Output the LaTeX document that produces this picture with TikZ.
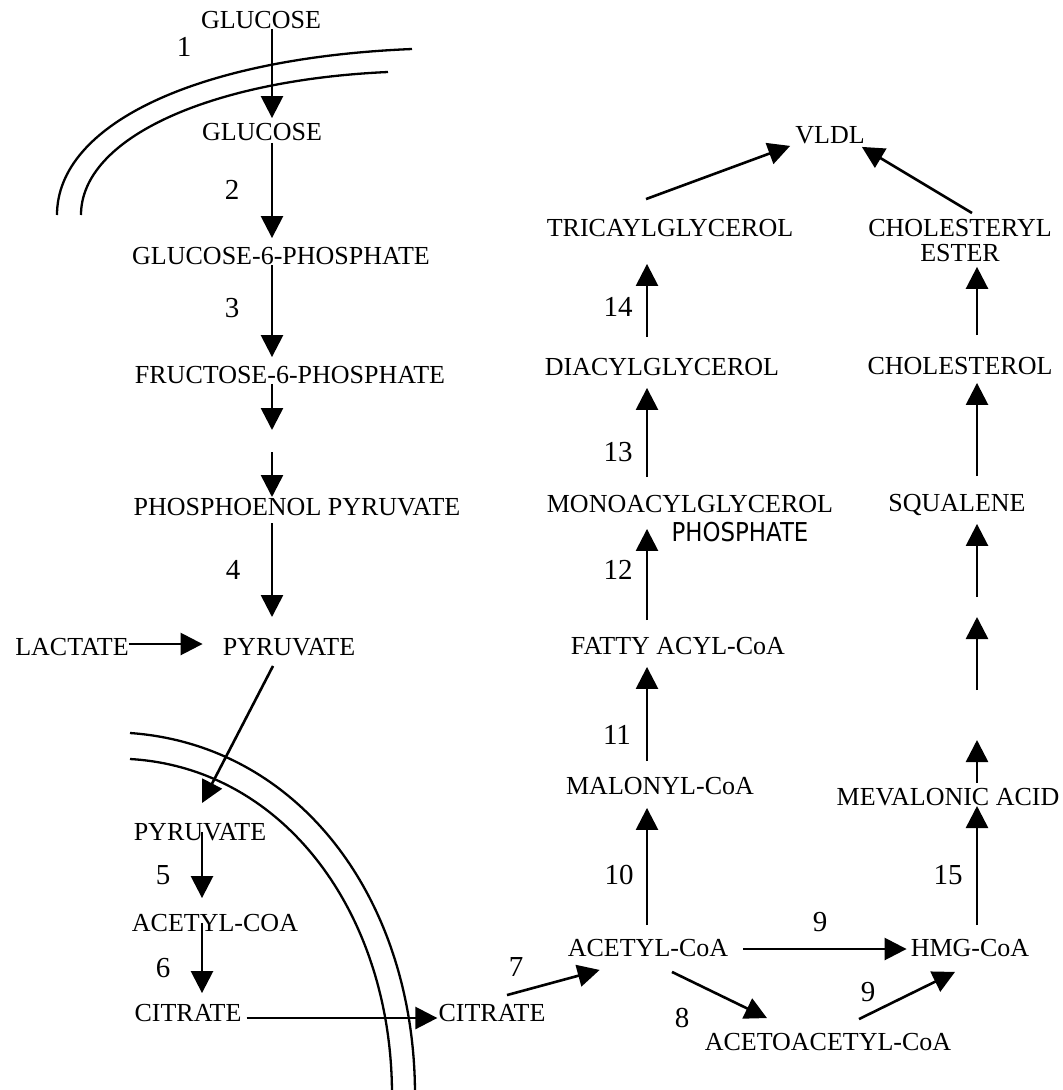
\documentclass[tikz,border=0pt]{standalone}
\usepackage{fontspec}
\setmainfont{Liberation Serif}
\newfontfamily\handfont{DejaVu Sans}
\usetikzlibrary{arrows.meta,calc}
\begin{document}
\begin{tikzpicture}[x=1pt,y=-1pt,
  lbl/.style={inner sep=0pt, font=\fontsize{26}{26}\selectfont},
  num/.style={inner sep=0pt, font=\fontsize{29}{29}\selectfont},
  arr/.style={line width=2.6pt, -{Triangle[length=22pt,width=22pt]}},
  mem/.style={line width=2.3pt}]
\useasboundingbox (0,0) rectangle (1063,1090);

% membranes
\draw[mem] (57,215) .. controls (57,125) and (195,58) .. (412,49);
\draw[mem] (81,215) .. controls (81,138) and (210,80) .. (388,72);
\draw[mem] (130,733) .. controls (300,745) and (415,900) .. (415,1095);
\draw[mem] (130,759) .. controls (285,768) and (392,915) .. (392,1095);

% column coordinates
\coordinate (cL) at (272,0);
\coordinate (cM) at (202,0);
\coordinate (cR1) at (647,0);
\coordinate (cR2) at (977,0);

% nodes
\node[lbl] (glu1) at (261,20) {GLUCOSE};
\node[lbl] (glu2) at (262,132) {GLUCOSE};
\node[lbl] (g6p) at (281,256) {GLUCOSE-6-PHOSPHATE};
\node[lbl] (f6p) at (290,375) {FRUCTOSE-6-PHOSPHATE};
\node[lbl] (pep) at (297,507) {PHOSPHOENOL PYRUVATE};
\node[lbl] (lac) at (72,647) {LACTATE};
\node[lbl] (pyr) at (289,647) {PYRUVATE};
\node[lbl] (mpyr) at (200,832) {PYRUVATE};
\node[lbl] (macoa) at (215,923) {ACETYL-COA};
\node[lbl] (mcit) at (188,1013) {CITRATE};
\node[lbl] (ccit) at (492,1013) {CITRATE};
\node[lbl] (acoa) at (648,948) {ACETYL-CoA};
\node[lbl] (aacoa) at (828,1042) {ACETOACETYL-CoA};
\node[lbl] (hmg) at (970,948) {HMG-CoA};
\node[lbl] (mev) at (948,797) {MEVALONIC ACID};
\node[lbl] (malo) at (660,786) {MALONYL-CoA};
\node[lbl] (fatty) at (678,646) {FATTY ACYL-CoA};
\node[lbl] (mono) at (690,504) {MONOACYLGLYCEROL};
\node[inner sep=0pt, font=\handfont\fontsize{26}{26}\selectfont] (phos) at (740,532) {\scalebox{0.88}[1]{PHOSPHATE}};
\node[lbl] (dia) at (662,367) {DIACYLGLYCEROL};
\node[lbl] (tri) at (670,228) {TRICAYLGLYCEROL};
\node[lbl] (vldl) at (830,135) {VLDL};
\node[lbl, align=center, font=\fontsize{26}{25}\selectfont, anchor=north] (chest) at (960,219) {CHOLESTERYL\\ESTER};
\node[lbl] (chol) at (960,366) {CHOLESTEROL};
\node[lbl] (squal) at (957,505) {SQUALENE};

% step numbers
\node[num] (n1) at (184,47) {1};
\node[num] (n2) at (232,190) {2};
\node[num] (n3) at (232,308) {3};
\node[num] (n4) at (233,570) {4};
\node[num] (n5) at (163,875) {5};
\node[num] (n6) at (163,968) {6};
\node[num] (n7) at (516,967) {7};
\node[num] (n8) at (682,1018) {8};
\node[num] (n9a) at (820,922) {9};
\node[num] (n9b) at (868,992) {9};
\node[num] (n10) at (619,875) {10};
\node[num] (n11) at (617,735) {11};
\node[num] (n12) at (618,570) {12};
\node[num] (n13) at (618,452) {13};
\node[num] (n14) at (618,307) {14};
\node[num] (n15) at (948,875) {15};

% free-end coordinates
\coordinate (gapA) at (272,430);
\coordinate (gapB) at (272,452);
\coordinate (rgA) at (977,740);
\coordinate (rgB) at (977,690);
\coordinate (rgC) at (977,617);
\coordinate (rgD) at (977,597);

% glycolysis
\draw[arr] (glu1.south -| cL) -- ($(glu2.north -| cL)+(0,-5)$);
\draw[arr] ($(glu2.south -| cL)+(0,2)$) -- ($(g6p.north -| cL)+(0,-9)$);
\draw[arr] (g6p.south -| cL) -- ($(f6p.north -| cL)+(0,-9)$);
\draw[arr] (f6p.south -| cL) -- (gapA);
\draw[arr] (gapB) -- ($(pep.north -| cL)+(0,-1)$);
\draw[arr] ($(pep.south -| cL)+(0,7)$) -- ($(pyr.north -| cL)+(0,-21)$);
\draw[arr] ($(lac.east)+(0,-3)$) -- ($(pyr.west)+(-20,-3)$);
\draw[arr] ($(pyr.south)+(-16,10)$) -- ($(mpyr.north)+(2,-20)$);

% mitochondrion
\draw[arr] (mpyr.center -| cM) -- ($(macoa.north -| cM)+(0,-16)$);
\draw[arr] (macoa.center -| cM) -- ($(mcit.north -| cM)+(0,-11)$);
\draw[arr] ($(mcit.east)+(5,5)$) -- ($(ccit.west)+(-1,5)$);

% cytosol
\draw[arr] ($(ccit.north)+(15,-9)$) -- ($(acoa.south west)+(32,13)$);
\draw[arr] ($(acoa.south)+(24,15)$) -- ($(aacoa.north)+(-61,-15)$);
\draw[arr] ($(acoa.east)+(15,1)$) -- ($(hmg.west)+(-4,1)$);
\draw[arr] ($(aacoa.north)+(31,-14)$) -- ($(hmg.south)+(-15,15)$);

% fatty acid branch
\draw[arr] ($(acoa.north -| cR1)+(0,-14)$) -- ($(malo.south -| cR1)+(0,13)$);
\draw[arr] ($(malo.north -| cR1)+(0,-16)$) -- ($(fatty.south -| cR1)+(0,12)$);
\draw[arr] ($(fatty.north -| cR1)+(0,-17)$) -- ($(mono.south -| cR1)+(0,16)$);
\draw[arr] ($(mono.north -| cR1)+(0,-18)$) -- ($(dia.south -| cR1)+(0,12)$);
\draw[arr] ($(dia.north -| cR1)+(0,-21)$) -- ($(tri.south -| cR1)+(0,27)$);
\draw[arr] ($(tri.north)+(-24,-20)$) -- ($(vldl.south west)+(-5,2)$);

% cholesterol branch
\draw[arr] ($(hmg.north)+(7,-14)$) -- (mev.south -| cR2);
\draw[arr] ($(mev.north -| cR2)+(0,-5)$) -- (rgA);
\draw[arr] (rgB) -- (rgC);
\draw[arr] (rgD) -- ($(squal.south -| cR2)+(0,8)$);
\draw[arr] ($(squal.north -| cR2)+(0,-18)$) -- ($(chol.south -| cR2)+(0,8)$);
\draw[arr] ($(chol.north -| cR2)+(0,-22)$) -- ($(chest.south -| cR2)+(0,5)$);
\draw[arr] ($(chest.north)+(12,-6)$) -- ($(vldl.south east)+(-3,3)$);
\end{tikzpicture}
\end{document}
